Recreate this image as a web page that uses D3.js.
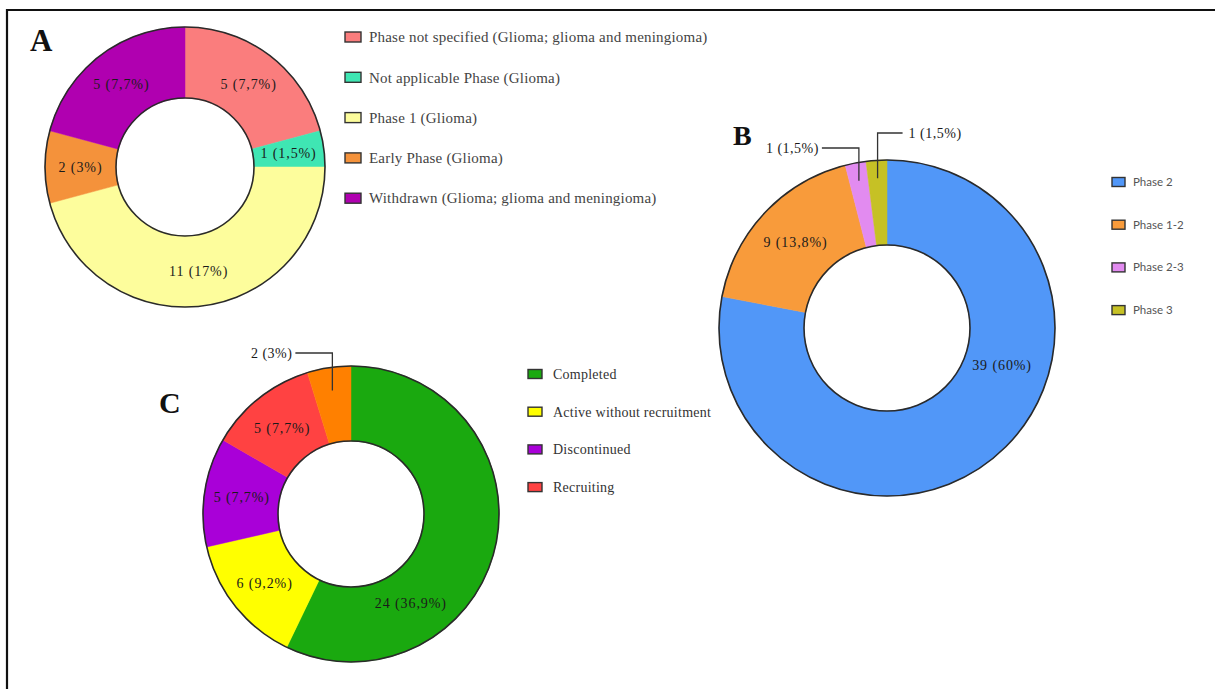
<!DOCTYPE html>
<html>
<head>
<meta charset="utf-8">
<script src="https://cdn.jsdelivr.net/npm/d3@7"></script>
<style>
  body { margin: 0; background: #fff; }
  svg { display: block; }
</style>
</head>
<body>
<svg id="chart"></svg>
<script>
// data for panel A
const aNames = ['Phase not specified (Glioma; glioma and meningioma)', 'Not applicable Phase (Glioma)',
  'Phase 1 (Glioma)', 'Early Phase (Glioma)', 'Withdrawn (Glioma; glioma and meningioma)'];
const aValues = [5, 1, 11, 2, 5];
const aTexts = ['5 (7,7%)', '1 (1,5%)', '11 (17%)', '2 (3%)', '5 (7,7%)'];
const aColors = ['#fa7d7d', '#3fe6b3', '#fdfd9c', '#f4923b', '#b000b0'];

// data for panel B
const bNames = ['Phase 2', 'Phase 1-2', 'Phase 2-3', 'Phase 3'];
const bValues = [39, 9, 1, 1];
const bTexts = ['39 (60%)', '9 (13,8%)', '1 (1,5%)', '1 (1,5%)'];
const bColors = ['#5197f8', '#f89b3b', '#e28bf0', '#c6c125'];

// data for panel C
const cNames = ['Completed', 'Active without recruitment', 'Discontinued', 'Recruiting'];
const cValues = [24, 6, 5, 5, 2];
const cTexts = ['24 (36,9%)', '6 (9,2%)', '5 (7,7%)', '5 (7,7%)', '2 (3%)'];
const cColors = ['#1aa90f', '#ffff00', '#a900d8', '#ff4242', '#ff8000'];

const width = 1215, height = 689;
const svg = d3.select('#chart').attr('width', width).attr('height', height);

// frame (left and top edges visible)
svg.append('path')
  .attr('d', `M7,${height} L7,10 L${width},10`)
  .attr('fill', 'none').attr('stroke', '#111').attr('stroke-width', 2.2);

const serif = '"Liberation Serif", "Times New Roman", serif';

function donut(o) {
  const g = svg.append('g').attr('transform', `translate(${o.cx},${o.cy})`);
  const pie = d3.pie().sort(null).value(d => d);
  const arcs = pie(o.values);
  const arc = d3.arc().innerRadius(o.r0).outerRadius(o.r1);

  g.selectAll('path.slice').data(arcs).enter().append('path')
    .attr('class', 'slice')
    .attr('d', arc)
    .attr('fill', (d, i) => o.colors[i])
    .attr('stroke', (d, i) => o.colors[i])
    .attr('stroke-width', 0.5);

  // dark rims
  [o.r0, o.r1].forEach(r => {
    g.append('circle').attr('r', r).attr('fill', 'none')
      .attr('stroke', '#2a2a2a').attr('stroke-width', 1.6);
  });

  // labels inside slices
  arcs.forEach((d, i) => {
    if (o.callouts && o.callouts[i]) return;
    const ov = o.labelPos && o.labelPos[i];
    let x, y;
    if (ov) {
      const a = ov[0] * Math.PI / 180;
      x = Math.sin(a) * ov[1]; y = -Math.cos(a) * ov[1];
    } else {
      [x, y] = arc.centroid(d);
    }
    g.append('text')
      .attr('x', x).attr('y', y).attr('dy', '0.35em')
      .attr('text-anchor', 'middle')
      .style('font-family', serif).style('font-size', '14px')
      .style('letter-spacing', '0.9px')
      .attr('fill', '#1a1a1a')
      .text(o.texts[i]);
  });

  // callout labels for thin slices
  if (o.callouts) {
    arcs.forEach((d, i) => {
      const c = o.callouts[i];
      if (!c) return;
      const mid = (d.startAngle + d.endAngle) / 2;
      const px = Math.sin(mid) * c.r, py = -Math.cos(mid) * c.r;
      const ex = px + c.dx;
      g.append('path')
        .attr('d', `M${px},${py} L${px},${c.y} L${ex},${c.y}`)
        .attr('fill', 'none').attr('stroke', '#333').attr('stroke-width', 1.3);
      g.append('text')
        .attr('x', ex + (c.dx < 0 ? -3 : 6)).attr('y', c.y).attr('dy', '0.35em')
        .attr('text-anchor', c.dx < 0 ? 'end' : 'start')
        .style('font-family', serif).style('font-size', '14px')
        .style('letter-spacing', '0.5px')
        .attr('fill', '#1a1a1a')
        .text(o.texts[i]);
    });
  }

  // panel letter
  svg.append('text')
    .attr('x', o.letter[1]).attr('y', o.letter[2])
    .style('font-family', serif).style('font-weight', 'bold')
    .style('font-size', o.letter[3] + 'px')
    .attr('fill', '#111')
    .text(o.letter[0]);

  // legend
  const lg = svg.append('g').attr('transform', `translate(${o.legend.x},${o.legend.y})`);
  const items = lg.selectAll('g').data(o.names).enter().append('g')
    .attr('transform', (d, i) => `translate(0,${i * o.legend.step})`);
  items.append('rect')
    .attr('x', 0).attr('y', -o.legend.h / 2)
    .attr('width', o.legend.w).attr('height', o.legend.h)
    .attr('fill', (d, i) => o.colors[i])
    .attr('stroke', '#333').attr('stroke-width', 1.4);
  items.append('text')
    .attr('x', o.legend.w + o.legend.gap).attr('dy', '0.35em')
    .style('font-family', o.legend.font).style('font-size', o.legend.size + 'px')
    .style('letter-spacing', o.legend.ls + 'px')
    .attr('fill', o.legend.color)
    .text(d => d);
}

donut({
  cx: 185, cy: 167, r0: 69, r1: 140,
  values: aValues, texts: aTexts, colors: aColors, names: aNames,
  letter: ['A', 30, 51, 31],
  legend: { x: 345, y: 37, step: 40.3, w: 16, h: 10, gap: 8, font: serif, size: 15, ls: 0.2, color: '#444' }
});

donut({
  cx: 887, cy: 328, r0: 83, r1: 168,
  values: bValues, texts: bTexts, colors: bColors, names: bNames,
  labelPos: [[108, 121]],
  callouts: [null, null, { r: 150, y: -180, dx: -37 }, { r: 150, y: -195, dx: 25 }],
  letter: ['B', 733, 145, 28],
  legend: { x: 1112, y: 182, step: 42.7, w: 13, h: 9, gap: 8, font: 'Lato, "Open Sans", sans-serif', size: 11.5, ls: 0, color: '#555' }
});

donut({
  cx: 351, cy: 514, r0: 73, r1: 148,
  values: cValues, texts: cTexts, colors: cColors, names: cNames,
  labelPos: [[146, 107]],
  callouts: [null, null, null, null, { r: 125, y: -161, dx: -37 }],
  letter: ['C', 159, 413, 30],
  legend: { x: 528, y: 374, step: 37.7, w: 14, h: 9, gap: 11, font: serif, size: 14, ls: 0.25, color: '#333' }
});
</script>
</body>
</html>
